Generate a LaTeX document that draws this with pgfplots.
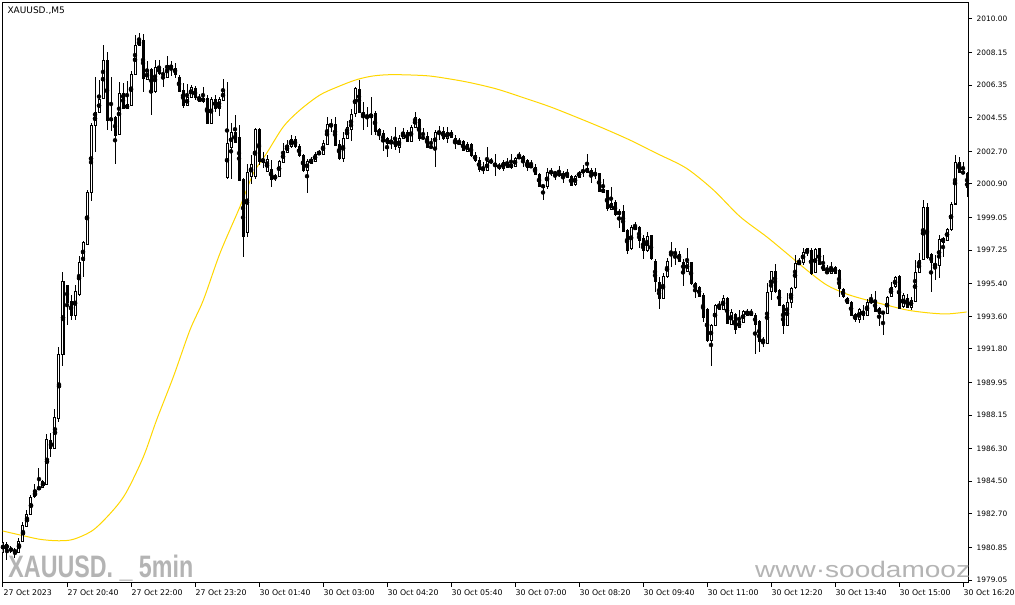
\documentclass[border=0pt]{standalone}
\usepackage{pgfplots}
\pgfplotsset{compat=1.18}
\usepackage{pgfplotstable}
\usepackage{fontspec}
\setmainfont{DejaVu Sans}
\newfontfamily\libsans{Liberation Sans}
\definecolor{magold}{RGB}{255,215,0}
\definecolor{wmgrey}{RGB}{180,180,180}

% XAUUSD M5 candles: index, open, high, low, close
\pgfplotstableread{
i o h l c
0 1980.60 1981.26 1980.49 1981.15
1 1981.04 1981.15 1980.16 1980.77
2 1980.77 1980.93 1980.55 1980.71
3 1980.71 1980.82 1980.27 1980.60
4 1980.60 1981.37 1980.55 1981.21
5 1981.21 1982.26 1981.15 1982.09
6 1982.04 1982.92 1981.98 1982.70
7 1982.70 1983.74 1982.64 1983.63
8 1983.63 1984.35 1983.57 1983.96
9 1984.07 1985.23 1984.02 1984.18
10 1984.18 1984.57 1984.13 1984.51
11 1984.35 1987.10 1984.29 1986.83
12 1986.77 1987.16 1985.84 1986.33
13 1986.33 1988.48 1986.28 1988.04
14 1987.99 1991.91 1987.77 1991.52
15 1991.52 1996.05 1990.86 1995.55
16 1995.28 1995.33 1993.12 1994.39
17 1994.45 1994.78 1993.40 1993.67
18 1993.67 1995.33 1993.40 1994.95
19 1994.83 1996.93 1994.72 1996.60
20 1996.66 1997.76 1995.77 1997.65
21 1997.59 2000.57 1997.54 2000.46
22 2000.46 2004.26 1999.97 2004.15
23 2004.15 2006.80 2002.66 2004.87
24 2004.87 2006.64 2004.81 2005.59
25 2005.64 2008.57 2005.59 2007.74
26 2007.74 2008.18 2003.88 2004.43
27 2004.54 2006.80 2003.82 2004.43
28 2004.59 2004.65 2002.00 2003.60
29 2003.63 2006.53 2003.60 2005.92
30 2005.92 2006.47 2005.03 2005.09
31 2005.06 2006.58 2005.03 2005.31
32 2005.25 2007.13 2005.20 2006.97
33 2006.97 2009.12 2006.91 2008.54
34 2008.54 2009.23 2008.51 2008.84
35 2008.79 2009.17 2005.98 2006.69
36 2006.69 2007.69 2006.64 2007.13
37 2007.24 2007.30 2004.70 2005.98
38 2005.98 2007.74 2005.92 2007.30
39 2007.35 2007.74 2006.91 2006.97
40 2007.02 2007.30 2006.25 2006.91
41 2006.80 2007.96 2006.75 2007.46
42 2007.46 2007.69 2006.86 2007.30
43 2007.30 2007.57 2006.75 2006.97
44 2006.80 2006.91 2005.98 2006.03
45 2006.09 2006.47 2005.09 2005.25
46 2005.25 2006.42 2005.20 2005.70
47 2005.70 2006.36 2005.64 2006.25
48 2006.20 2006.31 2005.53 2005.70
49 2005.70 2005.86 2005.42 2005.47
50 2005.47 2006.25 2005.36 2005.64
51 2005.64 2005.81 2004.24 2004.26
52 2004.26 2005.70 2004.21 2005.59
53 2005.59 2005.81 2004.87 2005.09
54 2005.09 2005.70 2004.65 2005.59
55 2005.53 2006.69 2005.47 2006.09
56 2001.28 2006.53 2001.17 2003.16
57 2002.94 2004.26 2001.17 2003.77
58 2003.77 2004.70 2003.16 2003.21
59 2003.49 2004.15 2001.06 2001.12
60 2001.17 2001.23 1996.88 1997.98
61 1998.20 2002.00 1997.98 2001.56
62 2001.34 2002.50 2000.90 2002.00
63 2001.34 2003.99 2001.17 2003.93
64 2003.93 2003.99 2001.95 2002.17
65 2002.27 2002.66 2001.78 2002.11
66 2001.61 2002.50 2001.56 2002.25
67 2001.72 2002.22 2000.73 2001.17
68 2001.23 2001.45 2001.06 2001.34
69 2001.34 2002.22 2001.28 2002.17
70 2002.11 2003.16 2002.06 2002.72
71 2002.66 2003.32 2002.61 2003.05
72 2002.94 2003.60 2002.88 2003.38
73 2003.38 2003.55 2002.88 2002.94
74 2002.99 2003.10 2002.39 2002.50
75 2002.50 2002.55 2001.56 2001.67
76 2001.67 2002.27 2000.40 2002.17
77 2002.06 2002.39 2002.00 2002.27
78 2002.17 2002.66 2002.11 2002.55
79 2002.55 2002.77 2002.50 2002.66
80 2002.55 2003.32 2002.50 2003.16
81 2003.10 2004.59 2003.05 2004.21
82 2004.21 2004.48 2003.77 2004.10
83 2004.21 2004.59 2002.99 2003.05
84 2003.10 2003.32 2002.22 2002.33
85 2002.33 2003.77 2002.11 2003.43
86 2003.43 2004.37 2003.38 2003.99
87 2003.93 2005.03 2003.27 2004.76
88 2004.76 2006.25 2004.59 2006.14
89 2006.14 2006.64 2004.81 2004.87
90 2004.87 2005.42 2003.88 2004.65
91 2004.70 2005.14 2004.04 2004.59
92 2004.59 2005.70 2003.60 2004.76
93 2004.81 2004.92 2003.60 2003.77
94 2003.93 2003.99 2003.32 2003.65
95 2003.71 2003.88 2002.72 2003.27
96 2003.43 2003.49 2002.39 2003.16
97 2003.16 2003.55 2002.83 2003.32
98 2003.38 2004.04 2002.77 2002.94
99 2002.94 2003.60 2002.61 2003.43
100 2003.43 2003.99 2003.38 2003.77
101 2003.77 2003.88 2003.21 2003.27
102 2003.27 2004.15 2003.21 2004.04
103 2004.04 2004.87 2003.99 2004.59
104 2004.48 2004.54 2003.27 2003.43
105 2003.49 2003.99 2003.32 2003.43
106 2003.55 2003.77 2002.91 2002.94
107 2002.96 2003.43 2002.91 2002.94
108 2002.94 2003.88 2001.83 2003.77
109 2003.82 2004.10 2003.32 2003.71
110 2003.82 2004.04 2003.32 2003.43
111 2003.43 2004.04 2003.16 2003.77
112 2003.77 2003.88 2003.43 2003.49
113 2003.43 2003.60 2002.83 2003.10
114 2003.10 2003.43 2003.05 2003.27
115 2003.27 2003.32 2002.72 2002.77
116 2002.72 2003.21 2002.66 2003.10
117 2003.10 2003.16 2002.39 2002.50
118 2002.50 2002.66 2002.11 2002.22
119 2002.22 2002.39 2001.56 2001.72
120 2001.78 2002.11 2001.45 2001.67
121 2001.67 2002.94 2001.61 2002.17
122 2002.22 2002.33 2002.00 2002.06
123 2002.06 2002.55 2001.34 2001.89
124 2001.95 2002.06 2001.67 2001.78
125 2001.78 2002.22 2001.61 2002.11
126 2002.11 2002.33 2001.78 2001.83
127 2001.83 2002.55 2001.72 2002.00
128 2001.89 2002.39 2001.83 2002.33
129 2002.33 2002.66 2002.27 2002.44
130 2002.44 2002.50 2001.83 2002.17
131 2002.17 2002.27 2001.61 2001.83
132 2001.83 2002.22 2001.78 2001.95
133 2001.83 2002.00 2001.39 2001.45
134 2001.45 2001.50 2000.73 2000.79
135 2000.84 2000.84 2000.02 2000.73
136 2000.79 2001.78 2000.62 2001.56
137 2001.61 2001.78 2001.34 2001.50
138 2001.56 2001.61 2001.12 2001.45
139 2001.50 2001.89 2001.28 2001.39
140 2001.28 2001.61 2000.95 2001.50
141 2001.50 2001.72 2001.23 2001.28
142 2001.34 2001.39 2000.79 2000.84
143 2000.90 2001.39 2000.79 2001.34
144 2001.28 2001.61 2001.23 2001.56
145 2001.67 2001.95 2001.28 2001.56
146 2001.78 2002.55 2001.50 2001.56
147 2001.67 2001.78 2000.95 2001.39
148 2001.50 2001.78 2001.17 2001.39
149 2001.45 2001.50 2000.46 2000.51
150 2000.62 2001.17 2000.40 2000.46
151 2000.51 2000.57 1999.41 1999.52
152 1999.52 2000.73 1999.47 1999.85
153 1999.91 2000.02 1999.14 1999.25
154 1999.25 1999.52 1998.48 1999.36
155 1999.36 1999.74 1998.26 1998.31
156 1998.37 1998.42 1997.04 1997.26
157 1997.32 1998.64 1997.26 1998.53
158 1998.53 1998.81 1998.37 1998.42
159 1998.48 1998.59 1997.37 1997.81
160 1997.92 1998.09 1996.76 1997.21
161 1997.21 1998.26 1997.15 1997.98
162 1998.04 1998.09 1996.71 1996.82
163 1996.60 1996.76 1994.95 1995.50
164 1995.50 1995.77 1994.00 1994.61
165 1994.61 1995.99 1994.56 1995.83
166 1995.77 1996.82 1995.72 1996.60
167 1997.15 1997.70 1996.32 1997.10
168 1997.15 1997.37 1996.43 1997.04
169 1997.04 1997.21 1996.60 1996.66
170 1996.60 1996.76 1995.28 1996.10
171 1996.10 1997.37 1996.05 1996.60
172 1996.60 1996.60 1995.33 1995.39
173 1995.44 1995.50 1994.61 1995.11
174 1995.22 1995.28 1994.67 1994.72
175 1994.78 1994.89 1993.29 1993.56
176 1994.00 1994.06 1992.18 1992.24
177 1992.24 1993.18 1990.86 1993.12
178 1993.12 1994.28 1993.07 1994.22
179 1994.22 1994.45 1993.95 1994.00
180 1994.00 1994.78 1993.95 1994.61
181 1994.61 1994.67 1993.18 1993.23
182 1993.18 1994.00 1993.12 1993.84
183 1993.73 1993.78 1992.62 1992.90
184 1993.01 1993.95 1992.96 1993.29
185 1993.29 1993.95 1993.23 1993.89
186 1993.89 1994.00 1993.62 1993.67
187 1993.67 1994.00 1993.62 1993.84
188 1993.67 1993.78 1991.52 1993.18
189 1993.34 1993.40 1991.63 1992.24
190 1992.24 1992.46 1991.91 1992.29
191 1992.13 1995.44 1992.07 1994.95
192 1994.95 1996.10 1994.50 1996.05
193 1996.05 1996.49 1994.89 1994.95
194 1995.06 1995.11 1994.17 1994.22
195 1994.22 1994.28 1992.62 1993.12
196 1993.12 1994.89 1993.07 1994.39
197 1994.39 1995.22 1994.06 1995.17
198 1995.17 1996.99 1995.11 1996.54
199 1996.49 1996.82 1996.43 1996.60
200 1996.60 1997.37 1996.43 1997.15
201 1997.10 1997.37 1996.93 1997.32
202 1997.26 1997.37 1995.88 1995.99
203 1996.05 1997.37 1995.99 1997.32
204 1997.32 1997.37 1996.43 1996.49
205 1996.43 1996.99 1996.10 1996.15
206 1996.10 1996.43 1995.94 1995.99
207 1995.99 1996.60 1995.94 1996.32
208 1996.32 1996.38 1995.94 1995.99
209 1996.15 1996.21 1994.67 1995.17
210 1995.11 1995.17 1994.61 1994.72
211 1994.61 1994.67 1994.28 1994.33
212 1994.39 1994.45 1993.62 1993.67
213 1993.73 1993.78 1993.29 1993.45
214 1993.45 1994.06 1993.23 1993.95
215 1993.67 1994.22 1993.40 1993.89
216 1993.67 1994.56 1993.62 1994.39
217 1994.50 1994.83 1994.28 1994.33
218 1994.50 1995.00 1993.84 1993.89
219 1994.06 1994.11 1993.07 1993.78
220 1993.84 1993.89 1992.57 1993.78
221 1993.78 1994.72 1993.73 1994.67
222 1994.72 1995.50 1994.67 1995.22
223 1995.22 1995.83 1995.17 1995.72
224 1995.83 1995.88 1994.00 1994.06
225 1994.11 1994.89 1994.06 1994.72
226 1994.61 1994.83 1994.06 1994.11
227 1994.11 1994.67 1993.95 1994.50
228 1994.45 1996.71 1994.39 1996.05
229 1996.05 1997.10 1995.99 1996.71
230 1996.76 2000.02 1996.71 1999.63
231 1999.58 1999.85 1996.76 1996.82
232 1996.99 1997.10 1994.95 1996.54
233 1996.38 1996.99 1995.61 1996.49
234 1996.43 1998.09 1995.72 1997.81
235 1997.70 1997.98 1996.88 1997.92
236 1997.81 1998.48 1997.76 1998.42
237 1998.37 1999.91 1998.31 1999.80
238 1999.80 2002.50 1999.74 2002.11
239 2002.11 2002.39 2001.50 2001.56
240 2001.56 2002.11 2001.45 2001.50
241 2001.50 2001.56 2000.18 2000.73
}\candles

\begin{document}
\begin{tikzpicture}
\useasboundingbox[fill=white] (0,0) rectangle (1015pt,605pt);
\begin{axis}[
  at={(2.5pt,22pt)}, anchor=south west,
  scale only axis, width=965.5pt, height=580.5pt,
  xmin=-0.125, xmax=241.25, ymin=1978.89, ymax=2010.91,
  axis line style={line width=1pt, black},
  tick style={line width=1pt, black},
  tick align=outside, major tick length=4pt,
  xtick pos=bottom, ytick pos=right, yticklabel pos=right,
  xtick={0,16,...,240},
  xticklabels={27 Oct 2023, 27 Oct 20:40, 27 Oct 22:00, 27 Oct 23:20,
    30 Oct 01:40, 30 Oct 03:00, 30 Oct 04:20, 30 Oct 05:40, 30 Oct 07:00,
    30 Oct 08:20, 30 Oct 09:40, 30 Oct 11:00, 30 Oct 12:20, 30 Oct 13:40,
    30 Oct 15:00, 30 Oct 16:20},
  ytick={1979.05,1980.85,1982.70,1984.50,1986.30,1988.15,1989.95,1991.80,1993.60,
    1995.40,1997.25,1999.05,2000.90,2002.70,2004.55,2006.35,2008.15,2010.00},
  yticklabels={1979.05,1980.85,1982.70,1984.50,1986.30,1988.15,1989.95,1991.80,1993.60,
    1995.40,1997.25,1999.05,2000.90,2002.70,2004.55,2006.35,2008.15,2010.00},
  xticklabel style={font=\fontsize{7.8}{9}\selectfont, anchor=north west,
    inner sep=0pt, xshift=0.5pt, yshift=-3pt},
  yticklabel style={font=\fontsize{7.4}{9}\selectfont, anchor=west,
    inner sep=0pt, xshift=4.5pt},
]
% watermarks and symbol title
\node[anchor=base west, text=wmgrey, inner sep=0pt] at (rel axis cs:0.006,0.0103)
  {\libsans\bfseries\fontsize{31}{31}\selectfont\scalebox{0.75}[1]{XAUUSD.\ \_\ 5min}};
\node[anchor=base west, text=wmgrey, inner sep=0pt] at (rel axis cs:0.7794,0.0103)
  {\libsans\fontsize{22.5}{23}\selectfont\scalebox{1.245}[1]{www·soodamooz.com}};
\node[anchor=base west, inner sep=0pt] at (rel axis cs:0.005,0.9802)
  {\fontsize{9}{10}\selectfont XAUUSD.,M5};

% moving average
\addplot[color=magold, line width=1pt, smooth] coordinates {
(-0.08,1981.76) (4.25,1981.54) (9.25,1981.30) (13.8,1981.22) (17.6,1981.30)
(22.6,1981.82) (27.6,1982.92) (30.9,1983.92) (35.1,1985.85) (38.4,1987.88)
(42.6,1990.27) (46.75,1992.85) (50.1,1994.50) (54.25,1997.08) (59.25,1999.65)
(62.6,2001.49) (65.9,2002.59) (70.1,2004.06) (74.25,2004.98) (79.25,2005.81)
(84.25,2006.31) (88.5,2006.66) (92.6,2006.86) (97.5,2006.93) (105.9,2006.87)
(111.75,2006.69) (116.75,2006.49) (123.4,2006.14) (130.1,2005.66) (136.75,2005.16)
(143.4,2004.58) (150.1,2003.97) (156.75,2003.32) (161.75,2002.77) (164.25,2002.50)
(170.9,2001.76) (177.6,2000.57) (184.25,1999.10) (190.9,1997.99) (195.9,1997.08)
(200.9,1996.16) (205.9,1995.33) (210.9,1994.83) (215.9,1994.50) (220.9,1994.22)
(225.9,1993.95) (230.9,1993.80) (235.9,1993.73) (240.9,1993.84)
};

% wicks
\addplot[only marks, mark=none, error bars/.cd, y dir=both, y explicit,
  error mark=none, error bar style={line width=1pt, draw=black}]
  table[x=i, y expr={(\thisrow{h}+\thisrow{l})/2},
    y error expr={(\thisrow{h}-\thisrow{l})/2}] {\candles};
% bodies
\addplot[only marks, mark=none, error bars/.cd, y dir=both, y explicit,
  error mark=none, error bar style={line width=3pt, draw=black}]
  table[x=i, y expr={(\thisrow{o}+\thisrow{c})/2},
    y error expr={abs(\thisrow{c}-\thisrow{o})/2+0.0276}] {\candles};
% hollow inside of rising candles
\addplot[only marks, mark=none, restrict y to domain=1970:2020,
  error bars/.cd, y dir=both, y explicit,
  error mark=none, error bar style={line width=1pt, draw=white}]
  table[x=i, y expr={ifthenelse(\thisrow{c}-\thisrow{o}>0.06,(\thisrow{o}+\thisrow{c})/2,0)},
    y error expr={(\thisrow{c}-\thisrow{o})/2-0.0276}] {\candles};
\end{axis}
\end{tikzpicture}
\end{document}
